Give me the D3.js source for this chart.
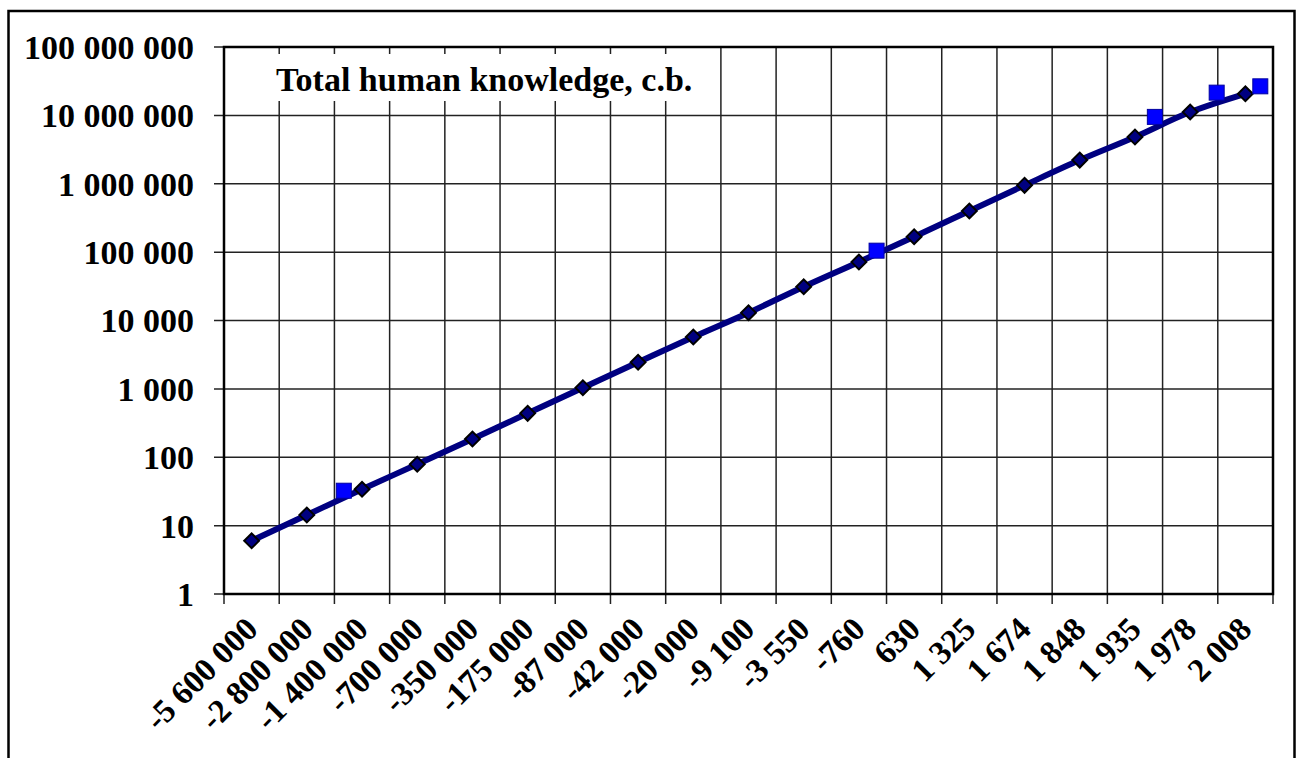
<html>
<meta charset="UTF-8">
<head>
    <title>knowledge</title>
    <style>
        body { margin: 0; background: #fff; }
        text { font-family: "Liberation Serif", "Times New Roman", serif; font-weight: bold; }
    </style>
</head>
<body>
<script src="https://d3js.org/d3.v7.min.js"></script>
<script>
    // category labels (years)
    let years = ["-5 600 000", "-2 800 000", "-1 400 000", "-700 000", "-350 000", "-175 000",
        "-87 000", "-42 000", "-20 000", "-9 100", "-3 550", "-760", "630", "1 325", "1 674",
        "1 848", "1 935", "1 978", "2 008"]
    // main series (diamonds), one per category
    let knowledge = [6.0, 14.3, 34, 79, 185, 439, 1040, 2450, 5740, 13000, 31200, 71800,
        168000, 399000, 948000, 2220000, 4830000, 11200000, 20700000]
    // second series (squares): position in category units and value
    let extraPos = [1.67, 11.32, 16.36, 17.48, 18.27]
    let extraVal = [32.4, 105000, 9500000, 21500000, 26600000]
    let yTicks = [1, 10, 100, 1000, 10000, 100000, 1000000, 10000000, 100000000]

    let W = 1298, H = 758
    let plotL = 224, plotR = 1273, plotT = 47, plotB = 594

    let svg = d3.select("body").append("svg")
        .attr("width", W).attr("height", H)

    // outer frame
    svg.append("rect")
        .attr("x", 8.5).attr("y", 11).attr("width", 1286).attr("height", 760)
        .attr("fill", "none").attr("stroke", "#000").attr("stroke-width", 2.5)

    let x = d3.scaleLinear().domain([-0.5, years.length - 0.5]).range([plotL, plotR])
    let y = d3.scaleLog().domain([1, 1e8]).range([plotB, plotT])

    let fmt = v => d3.format(",")(v).replace(/,/g, " ")

    // grid
    let grid = svg.append("g")
    grid.selectAll(".hg").data(yTicks).enter().append("line")
        .attr("x1", plotL - 10).attr("x2", plotR)
        .attr("y1", d => y(d)).attr("y2", d => y(d))
        .attr("stroke", "#222").attr("stroke-width", 1.5)
    let bounds = d3.range(years.length + 1)
    grid.selectAll(".vg").data(bounds).enter().append("line")
        .attr("x1", d => x(d - 0.5)).attr("x2", d => x(d - 0.5))
        .attr("y1", plotT).attr("y2", plotB + 10)
        .attr("stroke", "#222").attr("stroke-width", 1.5)

    // title box over grid
    svg.append("rect")
        .attr("x", 262).attr("y", 54).attr("width", 440).attr("height", 47)
        .attr("fill", "#fff")
    svg.append("text")
        .attr("x", 276).attr("y", 91)
        .attr("font-size", 34)
        .text("Total human knowledge, c.b.")

    // plot border
    svg.append("rect")
        .attr("x", plotL).attr("y", plotT).attr("width", plotR - plotL).attr("height", plotB - plotT)
        .attr("fill", "none").attr("stroke", "#000").attr("stroke-width", 2.5)

    // y labels
    svg.append("g").selectAll("text").data(yTicks).enter().append("text")
        .attr("x", 194).attr("y", d => y(d))
        .attr("dy", "0.35em")
        .attr("text-anchor", "end")
        .attr("font-size", 34)
        .text(d => fmt(d))

    // x labels
    svg.append("g").selectAll("text").data(years).enter().append("text")
        .attr("transform", (d, i) => "translate(" + (x(i) + 8) + ",631) rotate(-45)")
        .attr("text-anchor", "end")
        .attr("font-size", 33)
        .text(d => d)

    // line
    let line = d3.line()
        .x((d, i) => x(i))
        .y(d => y(d))
        .curve(d3.curveCatmullRom)
    svg.append("path")
        .datum(knowledge)
        .attr("d", line)
        .attr("fill", "none")
        .attr("stroke", "#000080")
        .attr("stroke-width", 6)

    // diamonds
    svg.append("g").selectAll("path").data(knowledge).enter().append("path")
        .attr("d", d3.symbol().type(d3.symbolSquare).size(110))
        .attr("transform", (d, i) => "translate(" + x(i) + "," + y(d) + ") rotate(45)")
        .attr("fill", "#000080")
        .attr("stroke", "#000")
        .attr("stroke-width", 2)

    // squares
    svg.append("g").selectAll("rect").data(extraVal).enter().append("rect")
        .attr("x", (d, i) => x(extraPos[i]) - 7.5)
        .attr("y", d => y(d) - 7.5)
        .attr("width", 15).attr("height", 15)
        .attr("fill", "#0000ff")
        .attr("stroke", "#0000a0")
        .attr("stroke-width", 1)
</script>
</body>
</html>
